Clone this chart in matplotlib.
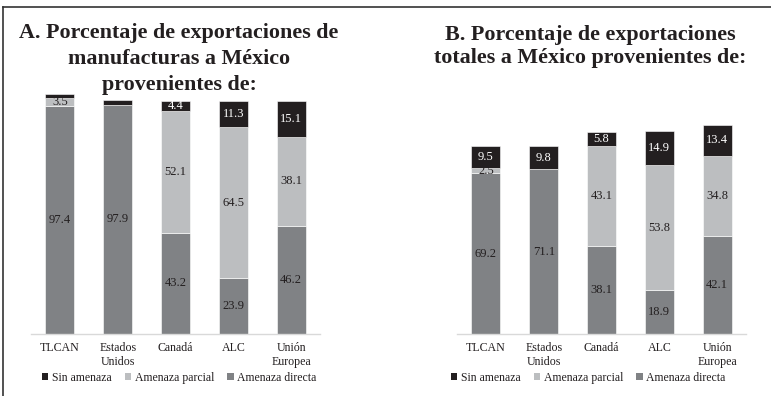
import numpy as np
import matplotlib.pyplot as plt
from matplotlib.patches import Patch
from matplotlib.lines import Line2D

plt.rcParams['font.family'] = ['Liberation Serif', 'DejaVu Serif']

categories = ['TLCAN', 'Estados\nUnidos', 'Canadá', 'ALC', 'Unión\nEuropea']
series = ['Sin amenaza', 'Amenaza parcial', 'Amenaza directa']

# panel A: manufacturas
a_directa = [97.4, 97.9, 43.2, 23.9, 46.2]
a_parcial = [3.5, 0.0, 52.1, 64.5, 38.1]
a_sin = [1.6, 2.1, 4.4, 11.3, 15.1]

# panel B: totales
b_directa = [69.2, 71.1, 38.1, 18.9, 42.1]
b_parcial = [2.5, 0.0, 43.1, 53.8, 34.8]
b_sin = [9.5, 9.8, 5.8, 14.9, 13.4]

title_a = ['A. Porcentaje de exportaciones de', 'manufacturas a México', 'provenientes de:']
title_b = ['B. Porcentaje de exportaciones', 'totales a México provenientes de:']

col_sin = '#231f20'
col_par = '#bcbec0'
col_dir = '#808285'
txt = '#231f20'

W, H = 771, 396
fig = plt.figure(figsize=(W / 100, H / 100), dpi=100)


def px_axes(x0, x1, y_base, y_top):
    return fig.add_axes([x0 / W, 1 - y_base / H, (x1 - x0) / W, (y_base - y_top) / H])


def panel(ax, directa, parcial, sin):
    x = np.arange(len(categories))
    bottom = np.zeros(len(x))
    for vals, col, tc in [(directa, col_dir, txt), (parcial, col_par, txt), (sin, col_sin, 'white')]:
        vals = np.array(vals)
        ax.bar(x, vals, 0.5, bottom=bottom, color=col, edgecolor='white',
               linewidth=0.4, clip_on=False, zorder=2)
        for xi, b, v in zip(x, bottom, vals):
            if v >= 2.5:
                ax.text(xi, b + v / 2, f'{v:.1f}', ha='center', va='center',
                        fontsize=9, color=tc, zorder=3)
        bottom = bottom + vals
    ax.set_xlim(-0.5, len(x) - 0.5)
    ax.set_ylim(0, 100)
    ax.set_xticks(x)
    ax.set_xticklabels(categories, fontsize=8.6, color=txt, linespacing=1.15)
    ax.tick_params(axis='x', length=0, pad=6)
    ax.set_yticks([])
    for s in ['top', 'right', 'left']:
        ax.spines[s].set_visible(False)
    ax.spines['bottom'].set_color('#d9d9d9')
    ax.spines['bottom'].set_linewidth(1.0)
    ax.patch.set_visible(False)


axA = px_axes(31, 320, 334, 100)
panel(axA, a_directa, a_parcial, a_sin)
axB = px_axes(457, 746, 334, 102)
panel(axB, b_directa, b_parcial, b_sin)

for line, y in zip(title_a, [33, 59, 85]):
    fig.text(179 / W, 1 - y / H, line, ha='center', va='center',
             fontsize=15.8, fontweight='bold', color=txt)
for line, y in zip(title_b, [35, 58]):
    fig.text(590 / W, 1 - y / H, line, ha='center', va='center',
             fontsize=15.8, fontweight='bold', color=txt)

handles = [Patch(facecolor=c, edgecolor='none') for c in (col_sin, col_par, col_dir)]
for ax, x0 in [(axA, 42), (axB, 451)]:
    fig.legend(handles, series, loc='center left', bbox_to_anchor=(x0 / W, 1 - 378 / H),
               ncol=3, frameon=False, fontsize=8.5, handlelength=0.55, handleheight=0.55,
               handletextpad=0.3, columnspacing=1.1, borderaxespad=0, borderpad=0,
               labelcolor=txt)

# outer frame (top and left edges)
fig.add_artist(Line2D([3 / W, 1], [1 - 7 / H, 1 - 7 / H], color='#333333', lw=1.2))
fig.add_artist(Line2D([3 / W, 3 / W], [1 - 7 / H, 0], color='#333333', lw=1.2))

fig.savefig('out.png', dpi=100)
